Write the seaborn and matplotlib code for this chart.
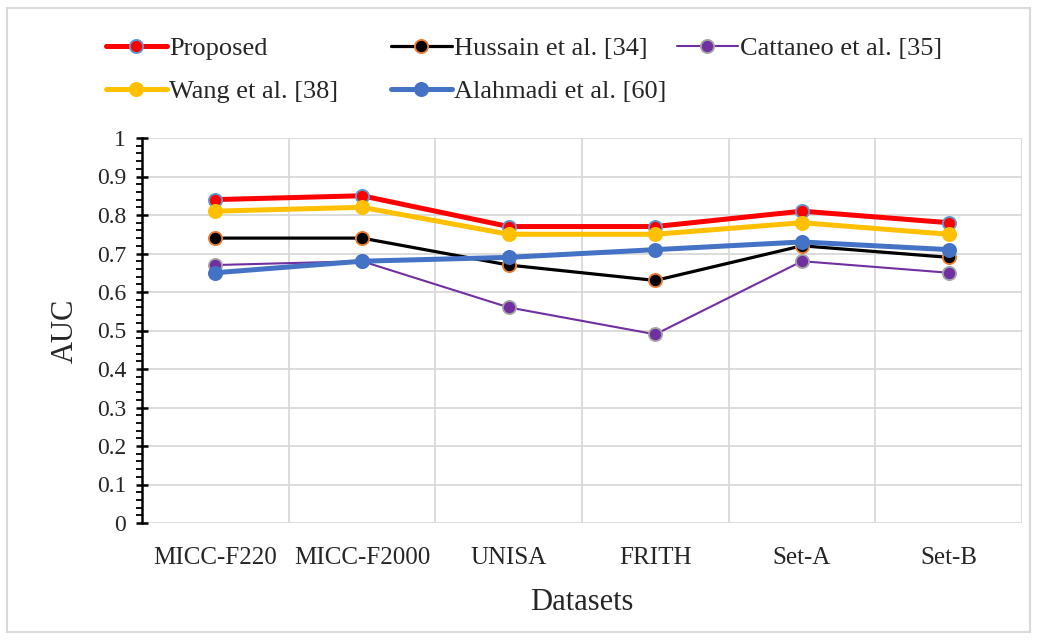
import pandas as pd
import numpy as np
import matplotlib.pyplot as plt
import seaborn as sns
from matplotlib.ticker import MultipleLocator, FixedLocator
from matplotlib.patches import Rectangle

datasets = ["MICC-F220", "MICC-F2000", "UNISA", "FRITH", "Set-A", "Set-B"]
proposed = [0.84, 0.85, 0.77, 0.77, 0.81, 0.78]
hussain = [0.74, 0.74, 0.67, 0.63, 0.72, 0.69]
cattaneo = [0.67, 0.68, 0.56, 0.49, 0.68, 0.65]
wang = [0.81, 0.82, 0.75, 0.75, 0.78, 0.75]
alahmadi = [0.65, 0.68, 0.69, 0.71, 0.73, 0.71]

sns.set_theme(style="white")
plt.rcParams['font.family'] = ['Liberation Serif', 'DejaVu Serif']

# name, values, line colour, marker edge colour, line width
series = [
    ("Proposed", proposed, "#FF0000", "#5B9BD5", 3.6),
    ("Hussain et al. [34]", hussain, "#000000", "#ED7D31", 2.3),
    ("Cattaneo et al. [35]", cattaneo, "#7030A0", "#A5A5A5", 1.5),
    ("Wang et al. [38]", wang, "#FFC000", "#FFC000", 3.6),
    ("Alahmadi et al. [60]", alahmadi, "#4472C4", "#4472C4", 3.6),
]

fig = plt.figure(figsize=(10.4, 6.42), dpi=100)
ax = fig.add_axes([142/1040, 1-523/642, 880/1040, 385/642])

# light frame around whole chart
fig.patches.append(Rectangle((7/1040, 10/642), 1023/1040, 624/642, transform=fig.transFigure,
                             fill=False, edgecolor="#D9D9D9", linewidth=1.5))

for i in [2, 1, 4, 3, 0]:
    name, vals, col, edge, lw = series[i]
    df = pd.DataFrame({"x": np.arange(len(datasets)), "y": vals})
    sns.lineplot(data=df, x="x", y="y", ax=ax, color=col, linewidth=lw, marker="o",
                 markersize=9.5, markerfacecolor=col, markeredgecolor=edge, markeredgewidth=1.3,
                 label=name, zorder=3 + i)

ax.set_xlim(-0.5, len(datasets) - 0.5)
ax.set_ylim(0, 1)
ax.yaxis.set_minor_locator(MultipleLocator(0.02))
ax.set_yticks(np.arange(0, 1.01, 0.1))
ax.set_yticklabels(["0", "0.1", "0.2", "0.3", "0.4", "0.5", "0.6", "0.7", "0.8", "0.9", "1"])
ax.set_xticks(np.arange(len(datasets)))
ax.set_xticklabels(datasets)
ax.xaxis.set_minor_locator(FixedLocator(np.arange(0.5, len(datasets), 1)))

ax.grid(True, which="major", axis="y", color="#D9D9D9", linewidth=1.3)
ax.grid(True, which="minor", axis="x", color="#D9D9D9", linewidth=1.3)
ax.set_axisbelow(True)

for s in ["top", "right", "bottom"]:
    ax.spines[s].set_visible(False)
ax.spines["left"].set_color("black")
ax.spines["left"].set_linewidth(1.8)

ax.tick_params(axis="y", which="major", direction="inout", length=9, width=1.8, color="black",
               labelsize=17, left=True, pad=7)
ax.tick_params(axis="y", which="minor", direction="out", length=4.5, width=1.3, color="black", left=True)
ax.tick_params(axis="x", which="both", length=0, labelsize=18, pad=17)

ax.set_xlabel("Datasets", fontsize=22, labelpad=14)
ax.set_ylabel("AUC", fontsize=22, labelpad=12)

leg_handles, leg_labels = ax.get_legend_handles_labels()
lookup = dict(zip(leg_labels, leg_handles))
ax.get_legend().remove()

# legend laid out in three fixed columns, like the original
columns = [(["Proposed", "Wang et al. [38]"], 106),
           (["Hussain et al. [34]", "Alahmadi et al. [60]"], 391),
           (["Cattaneo et al. [35]"], 677)]
for names, xpix in columns:
    fig.legend([lookup[n] for n in names], names, loc="upper left", frameon=False,
               bbox_to_anchor=(xpix/1040, 1-37/642), fontsize=19, handlelength=2.3,
               handletextpad=0.1, labelspacing=0.72, borderaxespad=0, borderpad=0,
               markerscale=1.0)

fig.savefig("out.png", dpi=100)
